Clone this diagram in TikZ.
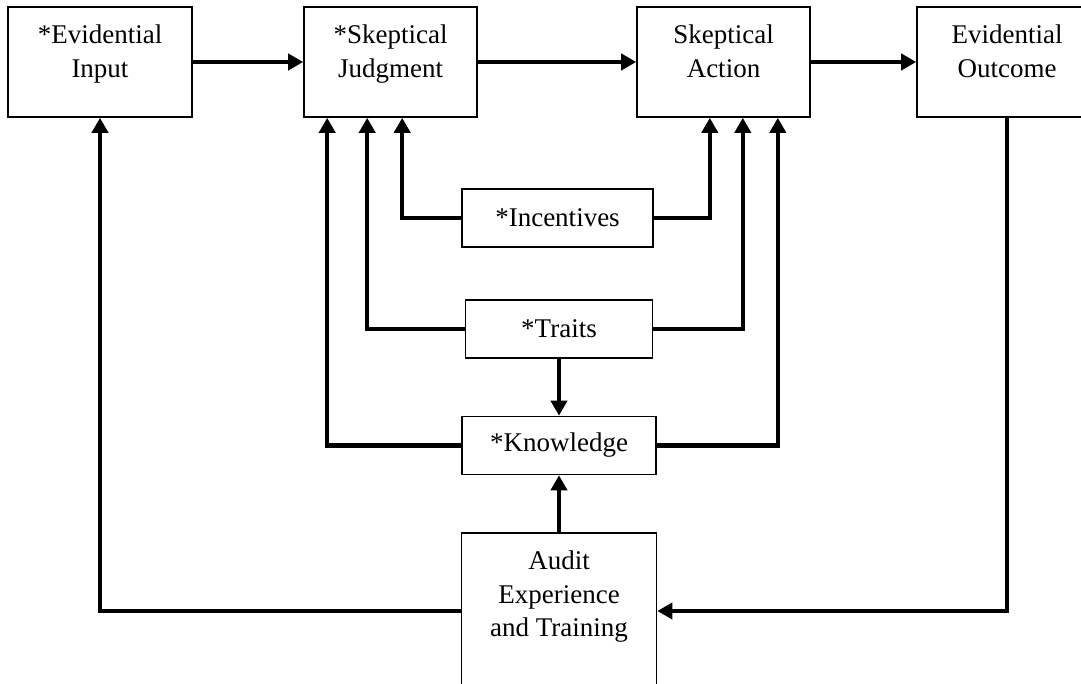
\documentclass[tikz,border=0pt]{standalone}
\usepackage{fontspec}
\setmainfont{Liberation Serif}
\usetikzlibrary{arrows.meta}

\begin{document}
\begin{tikzpicture}[x=1pt,y=-1pt,
  box/.style={draw,line width=1.6pt,minimum width=#1,inner sep=0pt,
    font=\fontsize{27}{33.5}\selectfont},
  tallbox/.style={box=#1,minimum height=110pt},
  midbox/.style={box=#1,minimum height=58pt},
  boxtext/.style={anchor=north,yshift=-18.6pt,align=center,inner sep=0pt,
    font=\fontsize{27}{33.5}\selectfont},
  link/.style={line width=4.5pt,-{Triangle[length=15pt,width=16pt]}},
]
  \useasboundingbox (0,0) rectangle (1081,684);
  \clip (0,0) rectangle (1081,684);
  \node[tallbox=184pt,label={[boxtext]north:{*Evidential\\Input}}] (input) at (100,62) {};
  \node[tallbox=173pt,label={[boxtext]north:{*Skeptical\\Judgment}}] (judg) at (390.5,62) {};
  \node[tallbox=173pt,label={[boxtext]north:{Skeptical\\Action}}] (action) at (723.5,62) {};
  \node[tallbox=180pt,label={[boxtext]north:{Evidential\\Outcome}}] (outcome) at (1007,62) {};
  \node[midbox=191pt] (incent) at (557.5,218) {*Incentives};
  \node[midbox=187pt] (traits) at (559,329) {*Traits};
  \node[midbox=194pt] (know) at (559,445.5) {*Knowledge};
  \node[box=195pt,minimum height=156pt,label={[boxtext]north:{Audit\\Experience\\and Training}}] (audit) at (559,611) {};

  \draw[link] (input) -- (judg);
  \draw[link] (judg) -- (action);
  \draw[link] (action) -- (outcome);
  \draw[link] (incent.west) -| ([xshift=99pt]judg.south west);
  \draw[link] (incent.east) -| ([xshift=-101pt]action.south east);
  \draw[link] (traits.west) -| ([xshift=64pt]judg.south west);
  \draw[link] (traits.east) -| ([xshift=-68pt]action.south east);
  \draw[link] (know.west) -| ([xshift=24pt]judg.south west);
  \draw[link] (know.east) -| ([xshift=-33pt]action.south east);
  \draw[link] (traits) -- (know);
  \draw[link] (audit) -- (know);
  \draw[link] (audit.west) -| (input.south);
  \draw[link] (outcome.south) |- (audit.east);
\end{tikzpicture}
\end{document}
